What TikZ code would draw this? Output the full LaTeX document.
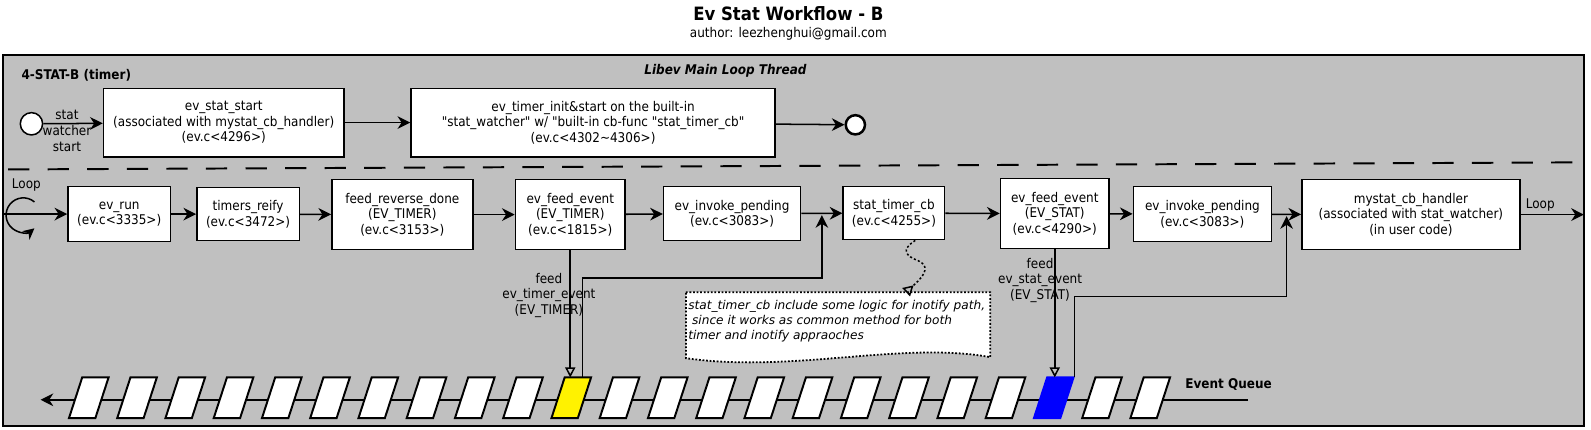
\documentclass[tikz,border=0pt]{standalone}
\usepackage{fontspec}
\setmainfont{DejaVu Sans Condensed}[
	Ligatures=TeXOff,
	BoldFont={DejaVu Sans Condensed Bold},
	ItalicFont={DejaVu Sans Condensed Oblique},
	BoldItalicFont={DejaVu Sans Condensed Bold Oblique}]
\newfontfamily\notefam{DejaVu Sans}[Ligatures=TeXOff, ItalicFont={DejaVu Sans Oblique}]
\usetikzlibrary{arrows.meta}

\definecolor{lanegray}{RGB}{192,192,192}
\newcommand{\boxfont}{\fontsize{7.5}{8.7}\selectfont}
\newcommand{\titlefont}{\fontsize{10.3}{12}\selectfont}
\newcommand{\notefont}{\notefam\itshape\fontsize{6.8}{8.4}\selectfont}

\begin{document}
\begin{tikzpicture}[x=0.02cm, y=-0.02cm,
	box/.style={draw=black, fill=white, line width=0.85pt, align=center, inner sep=1pt, font=\boxfont},
	flow/.style={line width=0.85pt, -{Stealth[length=0.25cm, width=0.25cm, inset=0.08cm]}},
	feed/.style={line width=0.85pt, -{Triangle[open, length=0.2cm, width=0.2cm]}},
	lbl/.style={align=center, inner sep=0pt, font=\boxfont},
	cell/.style={draw=black, line width=1.1pt, line join=miter}]

	\useasboundingbox (0,0) rectangle (1568,423);
	\draw[line width=1.1pt, fill=lanegray] (3,54) rectangle (1561,420);

	\node[font=\titlefont\bfseries] (title) at (777,13) {Ev Stat Workflow - B};
	\node[font=\boxfont] (author) at (777,33) {author: leezhenghui@gmail.com};
	\node[font=\boxfont\bfseries, anchor=west] (lane) at (15,74) {4-STAT-B (timer)};
	\node[font=\boxfont\bfseries\itshape] (thread) at (715,70) {Libev Main Loop Thread};

	\draw[line width=1.1pt, dash pattern=on 0.42cm off 0.36cm] (8,167) -- (1561,160);

	% watcher start
	\node[shape=circle, draw=black, fill=white, line width=0.85pt, minimum size=0.44cm, inner sep=0pt] (init) at (31,122) {};
	\node[box, minimum width=4.74cm, minimum height=1.35cm] (sstart) at (220.5,120.8) {ev\_stat\_start\\(associated with mystat\_cb\_handler)\\(ev.c<4296>)};
	\node[box, minimum width=7.18cm, minimum height=1.35cm] (tinit) at (584.5,120.8) {ev\_timer\_init\&start on the built-in\\"stat\_watcher" w/ "built-in cb-func "stat\_timer\_cb"\\(ev.c<4302\textasciitilde 4306>)};
	\node[shape=circle, draw=black, fill=white, line width=1.4pt, minimum size=0.38cm, inner sep=0pt] (fin) at (843,123) {};

	\draw[flow] (init) -- (sstart);
	\node[lbl] (initlbl) at (66,129) {stat\\watcher\\start};
	\draw[flow] (sstart) -- (tinit);
	\draw[flow] (tinit) -- (fin);

	% main loop
	\node[box, minimum width=2.02cm, minimum height=1.08cm] (evrun)   at (117.5,211)  {ev\_run\\(ev.c<3335>)};
	\node[box, minimum width=2.02cm, minimum height=1.04cm] (treify)  at (244.5,211)  {timers\_reify\\(ev.c<3472>)};
	\node[box, minimum width=2.78cm, minimum height=1.38cm] (frdone)  at (396.5,211.5) {feed\_reverse\_done\\(EV\_TIMER)\\(ev.c<3153>)};
	\node[box, minimum width=2.16cm, minimum height=1.38cm] (feedt)   at (562,211.5)  {ev\_feed\_event\\(EV\_TIMER)\\(ev.c<1815>)};
	\node[box, minimum width=2.70cm, minimum height=1.06cm] (invk1)   at (721.5,210.5) {ev\_invoke\_pending\\(ev.c<3083>)};
	\node[box, minimum width=2.00cm, minimum height=1.04cm] (stcb)    at (881,210)    {stat\_timer\_cb\\(ev.c<4255>)};
	\node[box, minimum width=2.14cm, minimum height=1.38cm] (feeds)   at (1039.5,210.5) {ev\_feed\_event\\(EV\_STAT)\\(ev.c<4290>)};
	\node[box, minimum width=2.72cm, minimum height=1.08cm] (invk2)   at (1185,211)   {ev\_invoke\_pending\\(ev.c<3083>)};
	\node[box, minimum width=4.30cm, minimum height=1.38cm] (handler) at (1390.5,211.5) {mystat\_cb\_handler\\(associated with stat\_watcher)\\(in user code)};

	\coordinate (loopin) at (3,211);
	\coordinate (loopout) at (1561,211.5);
	\draw[flow] (loopin) -- (evrun);
	\draw[line width=0.85pt, -{Stealth[length=0.22cm, width=0.22cm, inset=0.07cm]}] ([shift={(50:0.34cm)}]23,212) arc[start angle=50, end angle=310, radius=0.34cm];
	\node[font=\boxfont] (loopl) at (26,182) {Loop};
	\draw[flow] (evrun) -- (treify);
	\draw[flow] (treify) -- (frdone);
	\draw[flow] (frdone) -- (feedt);
	\draw[flow] (feedt) -- (invk1);
	\draw[flow] (invk1) -- (stcb);
	\draw[flow] (stcb) -- (feeds);
	\draw[flow] (feeds) -- (invk2);
	\draw[flow] (invk2) -- (handler);
	\draw[flow] (handler) -- (loopout);
	\node[font=\boxfont] (loopr) at (1518,202) {Loop};

	% event queue
	\coordinate (qhead) at (1230,394);
	\coordinate (qtail) at (40,394);
	\draw[flow] (qhead) -- (qtail);
	\foreach \i in {0,...,22} {
		\pgfmathsetmacro\xb{68+47.55*\i}
		\ifnum\i=10 \def\cellcol{yellow}\def\celldraw{black}\else
		\ifnum\i=20 \def\cellcol{blue}\def\celldraw{blue}\else
		\def\cellcol{white}\def\celldraw{black}\fi\fi
		\draw[cell, fill=\cellcol, draw=\celldraw] (\xb,412) -- ++(26,0) -- ++(13,-40) -- ++(-26,0) -- cycle;
	}
	\node[font=\boxfont\bfseries, anchor=west] (qlabel) at (1162,379) {Event Queue};

	% feed / invoke
	\coordinate (qtop) at (0,372);
	\draw[feed] (feedt) -- (feedt |- qtop);
	\node[lbl] (feedtl) at (541,291) {feed\\ev\_timer\_event\\(EV\_TIMER)};
	\coordinate (tret) at (574,372);
	\coordinate (tbend) at (574,274);
	\coordinate (tjoin) at (810,212);
	\draw[flow] (tret) -- (tbend) -| (tjoin);

	\draw[feed] (feeds) -- (feeds |- qtop);
	\node[lbl] (feedsl) at (1025,276) {feed\\ev\_stat\_event\\(EV\_STAT)};
	\coordinate (sret) at (1059,372);
	\coordinate (sbend) at (1059,292);
	\coordinate (sjoin) at (1268,213);
	\draw[flow] (sret) -- (sbend) -| (sjoin);

	% note
	\draw[line width=1pt, dash pattern=on 1pt off 1pt, fill=white] (676,288) -- (976,288) -- (976,352) .. controls (890,336) and (780,368) .. (676,353) -- cycle;
	\node[anchor=north west, align=left, inner sep=0pt, font=\notefont] (note) at (678,296) {stat\_timer\_cb include some logic for inotify path,\\\ since it works as common method for both\\timer and inotify appraoches};
	\coordinate (snk) at (902,237);
	\coordinate (notetop) at (893,288);
	\draw[line width=0.85pt, dash pattern=on 1.2pt off 1.2pt, -{Triangle[open, reversed, length=0.2cm, width=0.22cm]}] (snk) .. controls (888,246) and (892,252) .. (905,257) .. controls (920,264) and (906,276) .. (notetop);

\end{tikzpicture}
\end{document}
